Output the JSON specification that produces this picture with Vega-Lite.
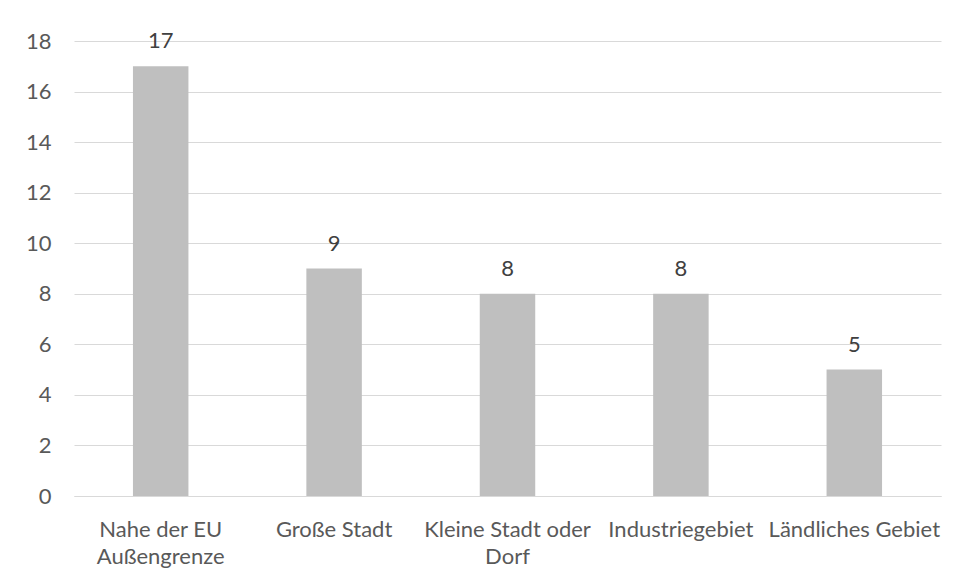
{
  "$schema": "https://vega.github.io/schema/vega-lite/v6.json",
  "autosize": "none",
  "width": 867,
  "height": 455,
  "padding": {"left": 74, "top": 41, "right": 16, "bottom": 83},
  "background": "white",
  "config": {
    "view": {"stroke": null},
    "font": "Lato",
    "axis": {"labelFont": "Lato", "labelFontSize": 22, "labelColor": "#595959"}
  },
  "data": {
    "values": [
      {"Gebiet": "Nahe der EU Außengrenze", "Anzahl": 17},
      {"Gebiet": "Große Stadt", "Anzahl": 9},
      {"Gebiet": "Kleine Stadt oder Dorf", "Anzahl": 8},
      {"Gebiet": "Industriegebiet", "Anzahl": 8},
      {"Gebiet": "Ländliches Gebiet", "Anzahl": 5}
    ]
  },
  "encoding": {
    "x": {
      "field": "Gebiet",
      "type": "nominal",
      "sort": null,
      "scale": {"paddingInner": 0.68, "paddingOuter": 0.34},
      "axis": {
        "title": null,
        "labelAngle": 0,
        "ticks": false,
        "domain": true,
        "domainColor": "#D9D9D9",
        "labelPadding": 23,
        "labelLineHeight": 27,
        "labelLimit": 0,
        "labelExpr": "datum.label == 'Nahe der EU Außengrenze' ? ['Nahe der EU', 'Außengrenze'] : datum.label == 'Kleine Stadt oder Dorf' ? ['Kleine Stadt oder', 'Dorf'] : datum.label"
      }
    },
    "y": {
      "field": "Anzahl",
      "type": "quantitative",
      "scale": {"domain": [0, 18], "nice": false},
      "axis": {
        "title": null,
        "values": [0, 2, 4, 6, 8, 10, 12, 14, 16, 18],
        "ticks": false,
        "domain": false,
        "gridColor": "#D9D9D9",
        "gridWidth": 1,
        "labelPadding": 23
      }
    }
  },
  "layer": [
    {"mark": {"type": "bar", "color": "#BFBFBF"}},
    {
      "mark": {"type": "text", "baseline": "alphabetic", "dy": -18, "fontSize": 22, "color": "#404040", "font": "Lato"},
      "encoding": {"text": {"field": "Anzahl", "type": "quantitative"}}
    }
  ]
}
